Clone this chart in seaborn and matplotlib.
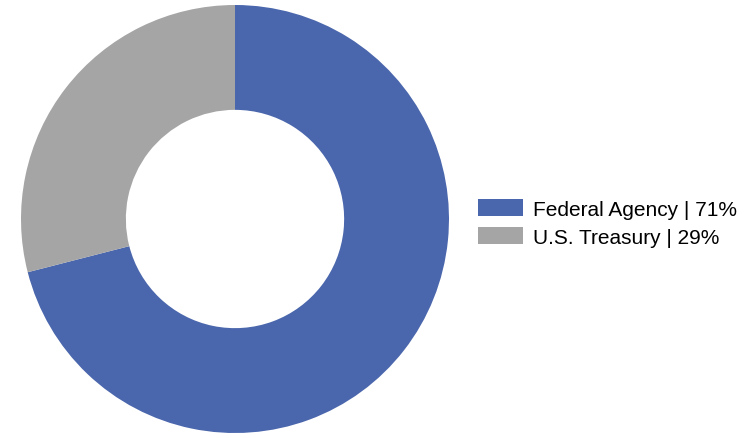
import matplotlib
matplotlib.use("Agg")
import matplotlib.pyplot as plt
import seaborn as sns
from matplotlib.patches import Patch

sns.set_theme(style="white")
plt.rcParams["font.family"] = ["Liberation Sans", "DejaVu Sans"]

categories = ["Federal Agency", "U.S. Treasury"]
shares = [71, 29]
colors = ["#4A66AC", "#A5A5A5"]

W, H = 754, 439
fig = plt.figure(figsize=(W / 100, H / 100), dpi=100)
cx, cy, r = 235, 220, 214
ax = fig.add_axes([(cx - r) / W, (H - cy - r) / H, 2 * r / W, 2 * r / H])

ax.pie(shares, colors=colors, startangle=90, counterclock=False, radius=1.0,
       wedgeprops=dict(width=0.49, edgecolor="none", linewidth=0))
ax.set_xlim(-1, 1)
ax.set_ylim(-1, 1)
ax.set_aspect("equal")
ax.axis("off")

handles = [Patch(facecolor=c, edgecolor="none") for c in colors]
labels = [f"{c} | {v}%" for c, v in zip(categories, shares)]
fig.legend(handles, labels, loc="center left", bbox_to_anchor=(478 / W, 1 - 224 / H),
           frameon=False, fontsize=15, handlelength=2.15, handleheight=0.87,
           handletextpad=0.48, labelspacing=0.4, borderaxespad=0, borderpad=0,
           labelcolor="black")

fig.savefig("out.png", dpi=100)
